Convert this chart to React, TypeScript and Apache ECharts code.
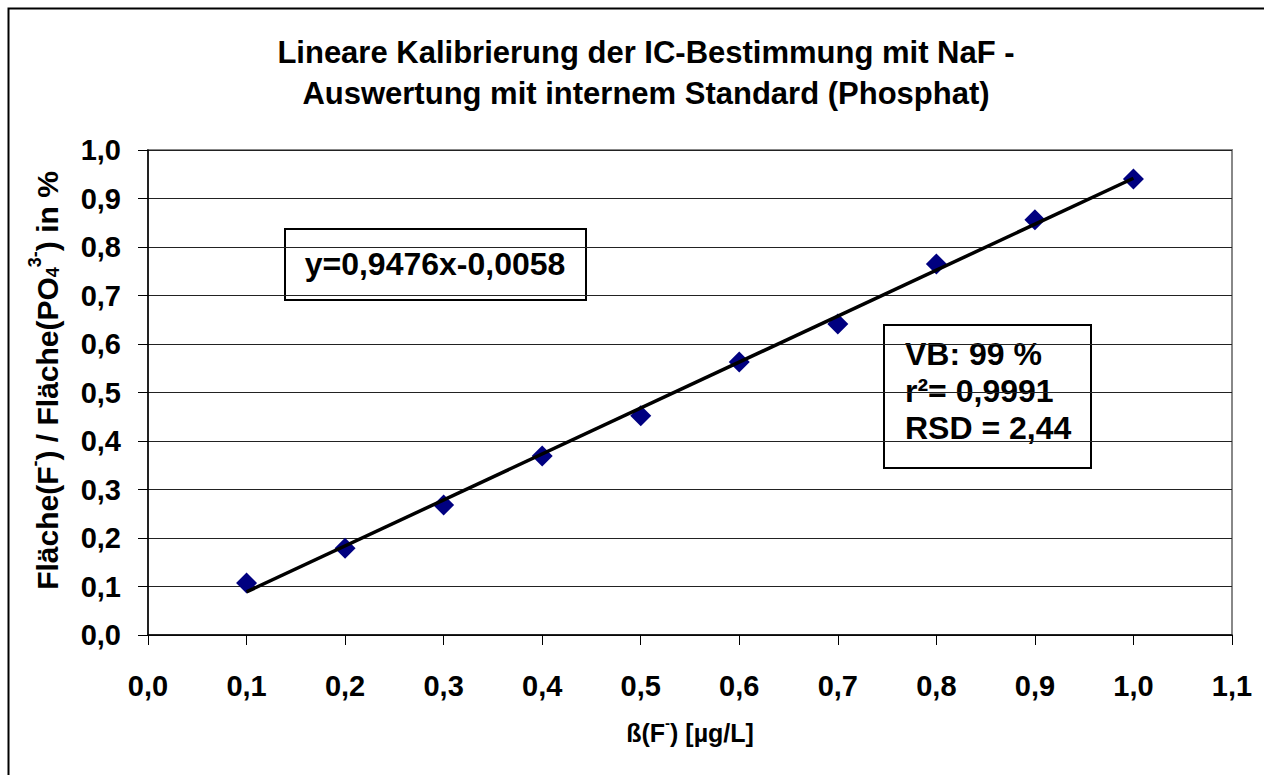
import React, { useEffect, useRef } from "react";
import * as echarts from "echarts";

// Fluoride concentration (µg/L) and area ratio F⁻ / PO4³⁻ (%)
const concentrations = [0.1, 0.2, 0.3, 0.4, 0.5, 0.6, 0.7, 0.8, 0.9, 1.0];
const areaRatios = [0.107, 0.179, 0.268, 0.369, 0.452, 0.563, 0.641, 0.765, 0.856, 0.94];

// Linear regression of the calibration
const slope = 0.9476;
const intercept = -0.0058;
const rSquared = 0.9991;
const confidenceLevel = 99;
const rsd = 2.44;

const titleLines = [
  "Lineare Kalibrierung der IC-Bestimmung mit NaF -",
  "Auswertung mit internem Standard (Phosphat)",
];

const FONT = "'Liberation Sans', Arial, Helvetica, sans-serif";

const de = (v: number, digits: number) => v.toFixed(digits).replace(".", ",");

export default function App() {
  const ref = useRef<HTMLDivElement>(null);

  useEffect(() => {
    if (!ref.current) return;
    const chart = echarts.init(ref.current, null, { renderer: "svg" });

    const xStart = concentrations[0];
    const xEnd = concentrations[concentrations.length - 1];
    const trend = [
      [xStart, slope * xStart + intercept],
      [xEnd, slope * xEnd + intercept],
    ];
    const equation =
      "y=" + de(slope, 4) + "x" + (intercept < 0 ? "-" : "+") + de(Math.abs(intercept), 4);
    const statsText = [
      "VB: " + confidenceLevel + " %",
      "r\u00b2= " + de(rSquared, 4),
      "RSD = " + de(rsd, 2),
    ].join("\n");

    const bold = { fontFamily: FONT, fontWeight: "bold" as const, color: "#000" };

    chart.setOption({
      animation: false,
      backgroundColor: "#fff",
      textStyle: { fontFamily: FONT },
      title: {
        text: titleLines.join("\n"),
        left: 641,
        textAlign: "center",
        top: 27,
        textStyle: { ...bold, fontSize: 31, lineHeight: 41 },
      },
      grid: {
        left: 148,
        right: 32,
        top: 150,
        bottom: 140,
        show: true,
        borderColor: "#888",
        borderWidth: 2,
        backgroundColor: "#fff",
      },
      xAxis: {
        type: "value",
        min: 0,
        max: 1.1,
        interval: 0.1,
        axisLine: { show: true, onZero: false, lineStyle: { color: "#000", width: 1.5 } },
        axisTick: { show: true, inside: false, length: 10, lineStyle: { color: "#000", width: 1 } },
        splitLine: { show: false },
        axisLabel: {
          ...bold,
          fontSize: 29,
          margin: 36,
          formatter: (v: number) => de(v, 1),
        },
        name: "{n|ß(F}{sup|-}{n|) [µg/L]}",
        nameLocation: "middle",
        nameGap: 80,
        nameTextStyle: {
          rich: {
            n: { ...bold, fontSize: 25, lineHeight: 30, verticalAlign: "bottom" },
            sup: { ...bold, fontSize: 15, lineHeight: 20, verticalAlign: "top" },
          },
        },
      },
      yAxis: {
        type: "value",
        min: 0,
        max: 1,
        interval: 0.1,
        axisLine: { show: true, onZero: false, lineStyle: { color: "#000", width: 1.5 } },
        axisTick: { show: true, inside: false, length: 10, lineStyle: { color: "#000", width: 1 } },
        splitLine: { show: true, lineStyle: { color: "#222", width: 1 } },
        axisLabel: {
          ...bold,
          fontSize: 29,
          margin: 27,
          formatter: (v: number) => de(v, 1),
        },
        name: "{n|Fläche(F}{sup|-}{n|) / Fläche(PO}{sub|4}{sup|3-}{n|) in %}",
        nameLocation: "middle",
        nameRotate: 90,
        nameGap: 86,
        nameTextStyle: {
          padding: [0, 0, 0, 24],
          rich: {
            n: { ...bold, fontSize: 30, lineHeight: 36, verticalAlign: "bottom" },
            sup: { ...bold, fontSize: 18, lineHeight: 22, verticalAlign: "top" },
            sub: { ...bold, fontSize: 18, lineHeight: 30, verticalAlign: "bottom" },
          },
        },
      },
      series: [
        {
          name: "Messwerte",
          type: "scatter",
          symbol: "diamond",
          symbolSize: 21,
          itemStyle: { color: "#000080", opacity: 1 },
          data: concentrations.map((x, i) => [x, areaRatios[i]]),
          z: 2,
        },
        {
          name: "Regression",
          type: "line",
          showSymbol: false,
          symbol: "none",
          lineStyle: { color: "#000", width: 3.5 },
          data: trend,
          z: 3,
        },
      ],
      graphic: [
        {
          type: "rect",
          left: 6,
          top: 6,
          z: 0,
          silent: true,
          shape: { x: 0, y: 0, width: 1300, height: 800 },
          style: { fill: "none", stroke: "#000", lineWidth: 2 },
        },
        {
          type: "group",
          z: 100,
          children: [
            {
              type: "rect",
              shape: { x: 285, y: 229, width: 301, height: 71 },
              style: { fill: "#fff", stroke: "#000", lineWidth: 2 },
            },
            {
              type: "text",
              x: 435,
              y: 264,
              style: {
                text: equation,
                font: "bold 32px " + FONT,
                fill: "#000",
                textAlign: "center",
                textVerticalAlign: "middle",
              },
            },
            {
              type: "rect",
              shape: { x: 884, y: 325, width: 207, height: 143 },
              style: { fill: "#fff", stroke: "#000", lineWidth: 2 },
            },
            {
              type: "text",
              x: 905,
              y: 335,
              style: {
                text: statsText,
                font: "bold 32px " + FONT,
                lineHeight: 37,
                textAlign: "left",
                textVerticalAlign: "top",
                fill: "#000",
              },
            },
          ],
        },
      ],
    });

    return () => chart.dispose();
  }, []);

  return (
    <div
      ref={ref}
      style={{ position: "absolute", left: 0, top: 0, width: 1264, height: 775, background: "#fff" }}
    />
  );
}
